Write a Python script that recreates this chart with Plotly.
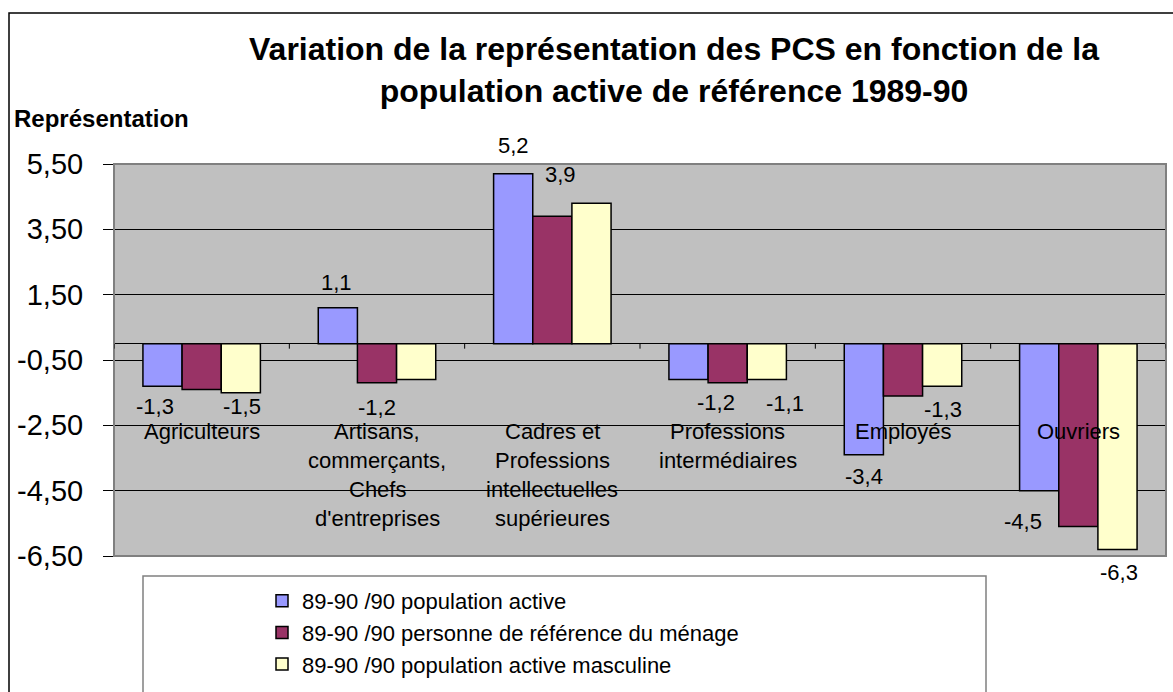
import plotly.graph_objects as go

# ---- data ----
categories = ["Agriculteurs", "Artisans, commerçants, Chefs d'entreprises",
              "Cadres et Professions intellectuelles supérieures",
              "Professions intermédiaires", "Employés", "Ouvriers"]
category_lines = [["Agriculteurs"],
                  ["Artisans,", "commerçants,", "Chefs", "d'entreprises"],
                  ["Cadres et", "Professions", "intellectuelles", "supérieures"],
                  ["Professions", "intermédiaires"],
                  ["Employés"],
                  ["Ouvriers"]]
series_names = ["89-90 /90 population active",
                "89-90 /90 personne de référence du ménage",
                "89-90 /90 population active masculine"]
pop_active = [-1.3, 1.1, 5.2, -1.1, -3.4, -4.5]
pers_ref = [-1.4, -1.2, 3.9, -1.2, -1.6, -5.6]
pop_masc = [-1.5, -1.1, 4.3, -1.1, -1.3, -6.3]
# which bars carry a value label in the original
show_pop_active = [True, True, True, False, True, True]
show_pers_ref = [False, True, True, True, False, False]
show_pop_masc = [True, False, False, True, True, True]
y_ticks = [-6.5, -4.5, -2.5, -0.5, 1.5, 3.5, 5.5]
y_ticktext = ["-6,50", "-4,50", "-2,50", "-0,50", "1,50", "3,50", "5,50"]

# ---- style ----
colors = ["#9999FF", "#993366", "#FFFFCC"]
FONT = "Liberation Sans, Arial, sans-serif"
W, H = 1173, 692
L, R, T, B = 114, 1166, 164, 556
PW, PH = R - L, B - T

def px_x(p):
    return (p - L) / PW

def px_y(p):
    return (B - p) / PH

series_vals = [pop_active, pers_ref, pop_masc]
series_show = [show_pop_active, show_pers_ref, show_pop_masc]

fig = go.Figure()
for name, vals, col in zip(series_names, series_vals, colors):
    fig.add_trace(go.Bar(
        x=categories, y=vals, name=name, legendgroup=name,
        marker=dict(color=col, line=dict(color="black", width=1.5)),
        hoverinfo="x+y",
    ))

annotations = []
# category labels placed inside plot, below zero line
for cat, lines in zip(categories, category_lines):
    for i, ln in enumerate(lines):
        annotations.append(dict(
            x=cat, y=0, xref="x", yref="y", text=ln, showarrow=False,
            yshift=-88 - 29 * i, yanchor="middle", xanchor="center",
            font=dict(family=FONT, size=22, color="black")))

# value labels: pixel nudges relative to bar end
bar_px = 39
nudges = {
    (0, 0): (-8, -20), (0, 2): (1, -14),
    (1, 0): (-2, 25), (1, 1): (0, -25),
    (2, 0): (0, 28), (2, 1): (8, 42),
    (3, 1): (-12, -20), (3, 2): (18, -24),
    (4, 0): (0, -22), (4, 2): (1, -23),
    (5, 0): (-16, -31), (5, 2): (2, -23),
}
for s, (vals, show) in enumerate(zip(series_vals, series_show)):
    for c, (v, sh) in enumerate(zip(vals, show)):
        if not sh:
            continue
        dx, dy = nudges.get((c, s), (0, 20 if v > 0 else -20))
        annotations.append(dict(
            x=categories[c], y=v, xref="x", yref="y",
            text=f"{v:.1f}".replace(".", ","), showarrow=False,
            xshift=(s - 1) * bar_px + dx, yshift=dy,
            xanchor="center", yanchor="middle",
            font=dict(family=FONT, size=22, color="black")))

annotations.append(dict(
    x=px_x(12), y=px_y(118), xref="paper", yref="paper",
    text="<b>Représentation</b>", showarrow=False,
    xanchor="left", yanchor="middle",
    font=dict(family=FONT, size=24, color="black")))

shapes = [
    # outer chart border
    dict(type="rect", xref="paper", yref="paper",
         x0=px_x(9), x1=px_x(1200), y0=px_y(720), y1=px_y(13),
         line=dict(color="black", width=1.5), fillcolor="rgba(0,0,0,0)", layer="below"),
    # legend box
    dict(type="rect", xref="paper", yref="paper",
         x0=px_x(143), x1=px_x(986), y0=px_y(720), y1=px_y(576),
         line=dict(color="#808080", width=1.5), fillcolor="white", layer="below"),
    # plot area border
    dict(type="rect", xref="paper", yref="paper", x0=0, x1=1, y0=0, y1=1,
         line=dict(color="#808080", width=2), fillcolor="rgba(0,0,0,0)", layer="above"),
]
# small category tick marks on the zero line
for k in range(len(categories) + 1):
    shapes.append(dict(type="line", xref="x", yref="y", x0=k - 0.5, x1=k - 0.5,
                       ysizemode="pixel", yanchor=0, y0=0, y1=-5,
                       line=dict(color="black", width=1)))

fig.update_layout(
    width=W, height=H,
    margin=dict(l=L, r=W - R, t=T, b=H - B, pad=0),
    paper_bgcolor="white", plot_bgcolor="#C0C0C0",
    font=dict(family=FONT, color="black"),
    title=dict(
        text="<b>Variation de la représentation des PCS en fonction de la<br>population active de référence 1989-90</b>",
        x=674 / W, xanchor="center", xref="container",
        y=1 - 60 / H, yanchor="top", yref="container",
        font=dict(family=FONT, size=32, color="black")),
    barmode="group", bargap=0.33, bargroupgap=0,
    xaxis=dict(range=[-0.5, 5.5], showticklabels=False, showgrid=False,
               ticks="", showline=False, zeroline=False),
    yaxis=dict(range=[-6.5, 5.5], tickvals=y_ticks, ticktext=y_ticktext,
               showgrid=True, gridcolor="black", gridwidth=1,
               zeroline=True, zerolinecolor="black", zerolinewidth=1,
               ticks="outside", ticklen=10, tickcolor="black", tickwidth=1,
               ticklabelstandoff=14,
               tickfont=dict(family=FONT, size=29, color="black"),
               showline=False),
    legend=dict(x=px_x(262), y=px_y(580), xanchor="left", yanchor="top",
                bgcolor="rgba(0,0,0,0)", borderwidth=0,
                font=dict(family=FONT, size=22, color="black"),
                tracegroupgap=2, traceorder="normal"),
    showlegend=True,
    annotations=annotations, shapes=shapes,
)

fig.write_html(
    "out.html",
    config={"displayModeBar": False},
    post_script="document.body.style.margin='0px';document.body.style.overflow='hidden';",
)
